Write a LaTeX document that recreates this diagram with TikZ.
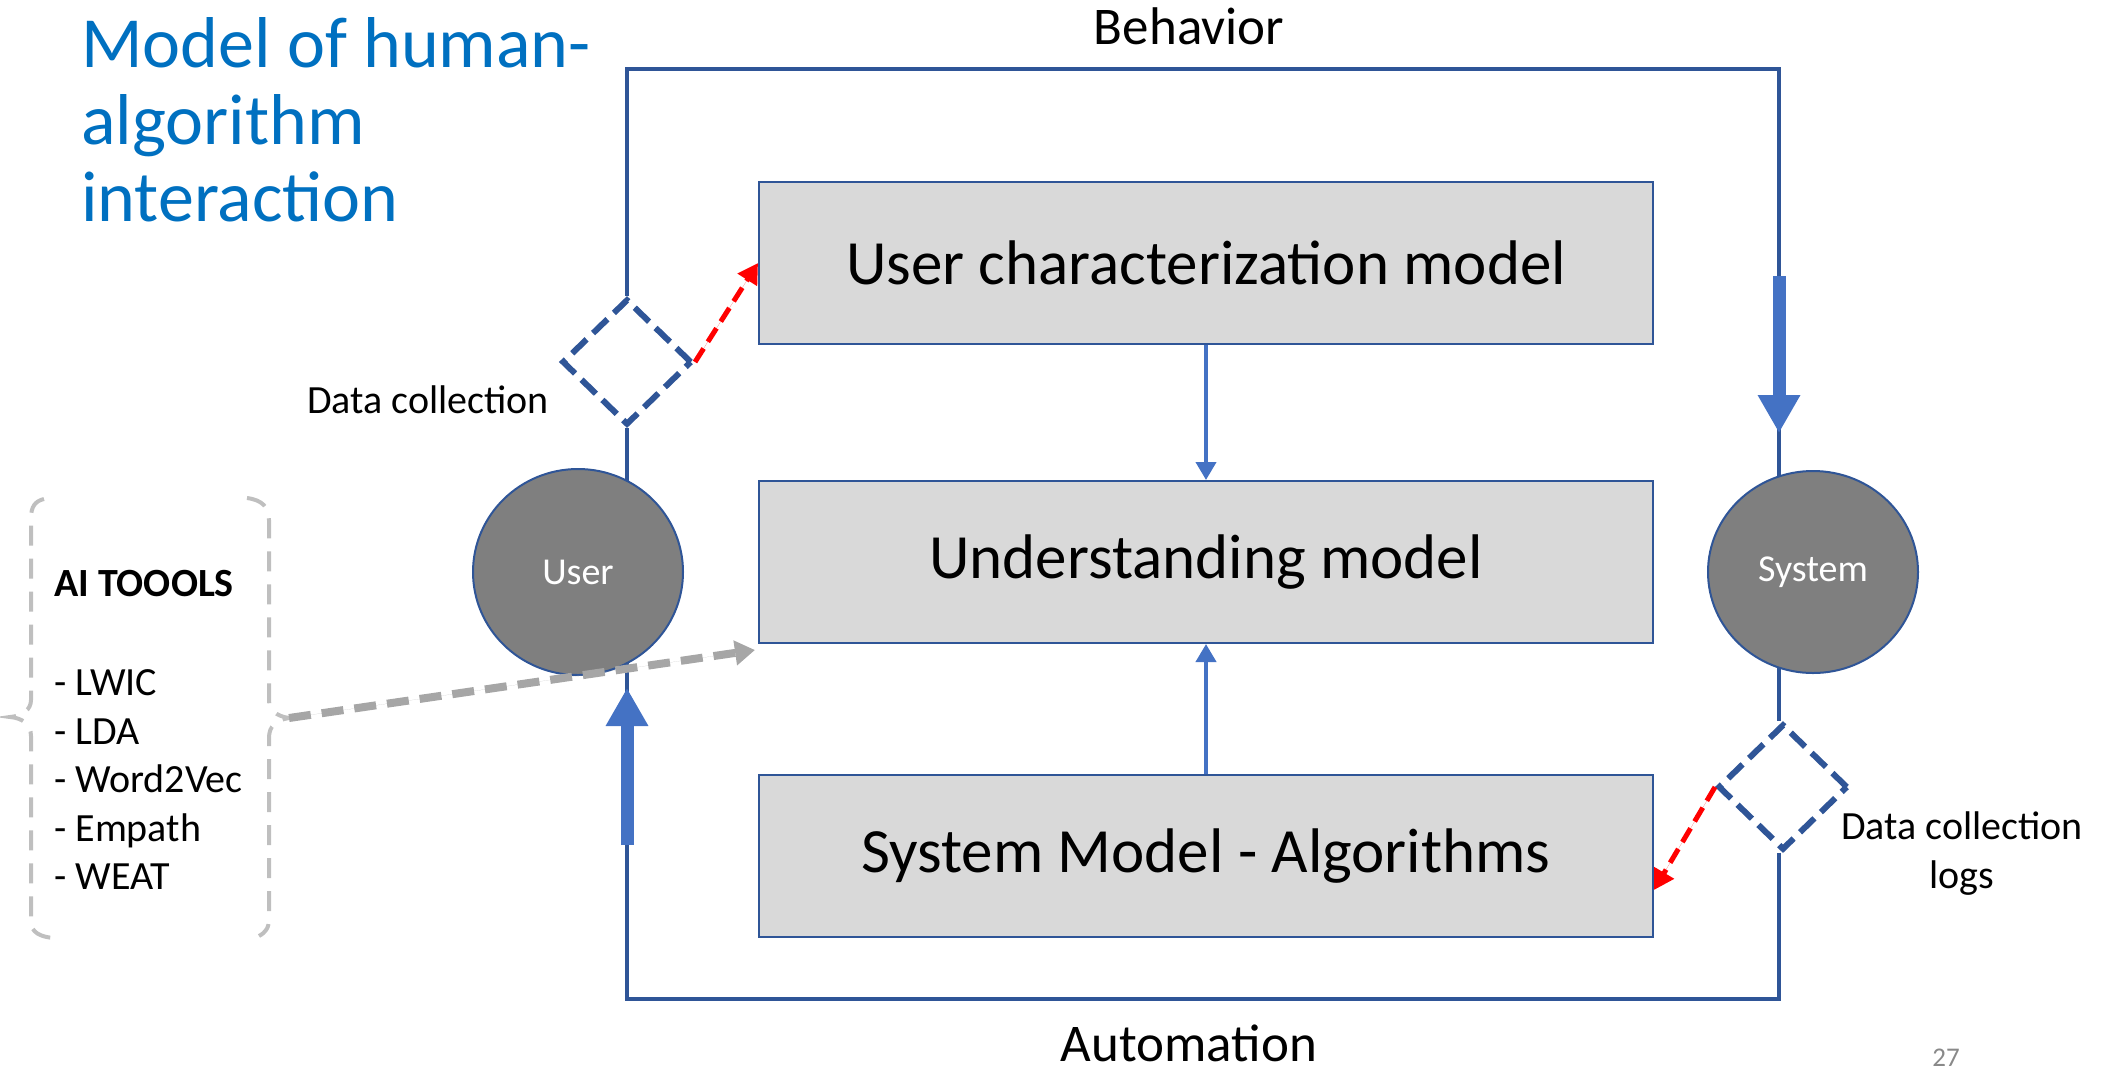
\documentclass[tikz,border=0pt]{standalone}
\usepackage{fontspec}
\setmainfont{Carlito}
\usetikzlibrary{arrows.meta,shapes.geometric,calc}
\definecolor{loopblue}{HTML}{2F5597}
\definecolor{accblue}{HTML}{4472C4}
\definecolor{titleblue}{HTML}{0070C0}
\definecolor{boxgray}{HTML}{D9D9D9}
\definecolor{circgray}{HTML}{7F7F7F}
\definecolor{bracegray}{HTML}{BFBFBF}
\definecolor{arrgray}{HTML}{A6A6A6}
\definecolor{pagegray}{HTML}{898989}
\begin{document}
\begin{tikzpicture}[x=1pt,y=-1pt,
  mbox/.style={rectangle, draw=loopblue, line width=2pt, fill=boxgray, minimum width=894pt, minimum height=162pt, inner sep=0pt, font=\fontsize{63}{75}\selectfont},
  actor/.style={ellipse, draw=loopblue, line width=2pt, fill=circgray, text=white, inner sep=0pt, minimum width=210pt, font=\fontsize{38}{46}\selectfont},
  gate/.style={diamond, draw=loopblue, line width=6pt, dash pattern=on 20pt off 9pt, inner sep=0pt, minimum width=130pt, minimum height=126pt},
  loopline/.style={draw=loopblue, line width=4.5pt},
  flow/.style={draw=accblue, fill=accblue, line width=13pt, -{Triangle[length=38pt,width=40pt]}},
  link/.style={draw=accblue, fill=accblue, line width=4pt, -{Triangle[length=18pt,width=20pt]}},
  feed/.style={draw=red, fill=red, line width=5pt, dash pattern=on 16pt off 8pt, -{Triangle[length=20pt,width=22pt]}},
  toolarrow/.style={draw=arrgray, fill=arrgray, line width=8pt, dash pattern=on 22pt off 11pt, -{Triangle[length=20pt,width=24pt]}},
  bracket/.style={draw=bracegray, line width=4pt, dash pattern=on 20pt off 13pt},
  lbl/.style={inner sep=0pt, font=\fontsize{40}{48}\selectfont},
  big/.style={inner sep=0pt, font=\fontsize{53}{64}\selectfont},
  ttl/.style={inner sep=0pt, anchor=base west, text=titleblue, font=\fontsize{72}{77}\selectfont}
]
\useasboundingbox (0,0) rectangle (2109,1072);

% title
\node[ttl] (t1) at (81,67) {Model of human-};
\node[ttl] (t2) at (81,144) {algorithm};
\node[ttl] (t3) at (81,221) {interaction};

% loop corners
\coordinate (tl) at (627,69);
\coordinate (tr) at (1779,69);
\coordinate (br) at (1779,999);
\coordinate (bl) at (627,999);

% gates
\node[gate] (d1) at (627,362) {};
\node[gate] (d2) at (1783,787) {};

% loop
\draw[loopline] (d1.north) -- (tl) -- (tr) -- (tr |- d2.north);
\draw[loopline] (tr |- d2.south) -- (br) -- (bl) -- (bl |- d1.south);

% boxes
\node[mbox] (ucm) at (1206,263) {User characterization model};
\node[mbox] (und) at (1206,562) {Understanding model};
\node[mbox] (sys) at (1206,856) {System Model - Algorithms};

% actors
\node[actor, minimum height=206pt] (user) at (578,572) {User};
\node[actor, minimum height=202pt] (system) at (1813,572) {System};

% thick flow arrows
\coordinate (ra1) at (1779,276);
\coordinate (ra2) at (1779,433);
\coordinate (la1) at (627,845);
\coordinate (la2) at (627,688);
\draw[flow] (ra1) -- (ra2);
\draw[flow] (la1) -- (la2);

% box links
\draw[link] (ucm.south) -- (und.north);
\draw[link] (sys.north) -- (und.south);

% data collection arrows
\draw[feed] (d1.east) -- (ucm.west);
\draw[feed] (d2.west) -- ([yshift=-34pt]sys.east);

% labels
\node[big, anchor=base] (beh) at (1189,44) {Behavior};
\node[big, anchor=base] (aut) at (1189,1061) {Automation};
\node[lbl, anchor=base east] (dc1) at (549,413) {Data collection};
\node[lbl, anchor=base] (dc2) at (1962,839) {Data collection};
\node[lbl, anchor=base] (dc3) at (1962,888) {logs};

% AI tools bracket
\draw[bracket] (44,499) .. controls (35,501) and (31,507) .. (31,518) -- (31,700)
  .. controls (31,710) and (22,716) .. (10,717)
  .. controls (22,718) and (31,724) .. (31,736) -- (31,922)
  .. controls (31,932) and (40,937) .. (54,938);
\coordinate (bt) at (289,718);
\draw[bracket] (247,498) .. controls (262,500) and (269,507) .. (269,520) -- (269,700)
  .. controls (269,710) and (276,716) .. (bt)
  .. controls (276,720) and (269,726) .. (269,738) -- (269,918)
  .. controls (269,928) and (266,932) .. (259,936);

\node[lbl, anchor=base west, font=\bfseries\fontsize{40}{48}\selectfont] (ai) at (54,596) {AI TOOOLS};
\node[lbl, anchor=base west] (i1) at (54,695) {- LWIC};
\node[lbl, anchor=base west] (i2) at (54,744) {- LDA};
\node[lbl, anchor=base west] (i3) at (54,792) {- Word2Vec};
\node[lbl, anchor=base west] (i4) at (54,841) {- Empath};
\node[lbl, anchor=base west] (i5) at (54,889) {- WEAT};

\draw[toolarrow] (bt) -- ($(und.south west)+(-3,6)$);

% page number
\node[anchor=base, inner sep=0pt, text=pagegray, font=\fontsize{27}{32}\selectfont] (pg) at (1946,1066) {27};
\end{tikzpicture}
\end{document}
